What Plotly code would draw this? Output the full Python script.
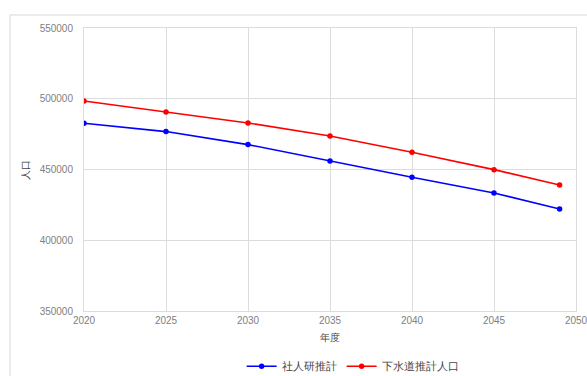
import plotly.graph_objects as go

years = [2020, 2025, 2030, 2035, 2040, 2045, 2049]
shajinken = [482700, 476800, 467600, 456000, 444500, 433400, 422100]
gesuido = [498400, 490700, 482900, 473700, 462200, 449900, 439000]
names = ["社人研推計", "下水道推計人口"]

fig = go.Figure()
fig.add_trace(go.Scatter(x=years, y=shajinken, name=names[0], mode="lines+markers",
                         line=dict(color="#0000ff", width=1.6), marker=dict(size=5.5, color="#0000ff")))
fig.add_trace(go.Scatter(x=years, y=gesuido, name=names[1], mode="lines+markers",
                         line=dict(color="#ff0000", width=1.6), marker=dict(size=5.5, color="#ff0000")))

grid = "#dcdcdc"
fig.update_layout(
    width=587, height=376,
    margin=dict(l=84, r=11, t=28, b=65, autoexpand=False),
    paper_bgcolor="white", plot_bgcolor="white",
    font=dict(family="Liberation Sans, Arial, sans-serif", size=10, color="#808080"),
    xaxis=dict(range=[2020, 2050], dtick=5, tick0=2020, showgrid=True, gridcolor=grid, gridwidth=1,
               showline=True, linecolor=grid, mirror=True, zeroline=False, ticks="",
               automargin=False, ticklabeloverflow="allow",
               title=dict(text="年度", font=dict(size=10, color="#444444"), standoff=8)),
    yaxis=dict(range=[350000, 550000], dtick=50000, showgrid=True, gridcolor=grid, gridwidth=1,
               showline=True, linecolor=grid, mirror=True, zeroline=False, ticks="",
               tickformat="d", ticklabelstandoff=8, automargin=False,
               title=dict(text="人口", font=dict(size=10, color="#444444"), standoff=8)),
    legend=dict(orientation="h", x=0.546, xanchor="center", y=-0.195, yanchor="middle",
                font=dict(size=11, color="#444444"), itemwidth=30),
    shapes=[dict(type="rect", xref="paper", yref="paper", x0=-0.1504, x1=1.2, y0=-0.4, y1=1.046,
                 line=dict(color="#d8d8d8", width=1), fillcolor="rgba(0,0,0,0)", layer="below")],
    showlegend=True,
)
fig.write_html("out.html", config={"displayModeBar": False},
               post_script="document.body.style.margin='0';document.body.style.overflow='hidden';")
